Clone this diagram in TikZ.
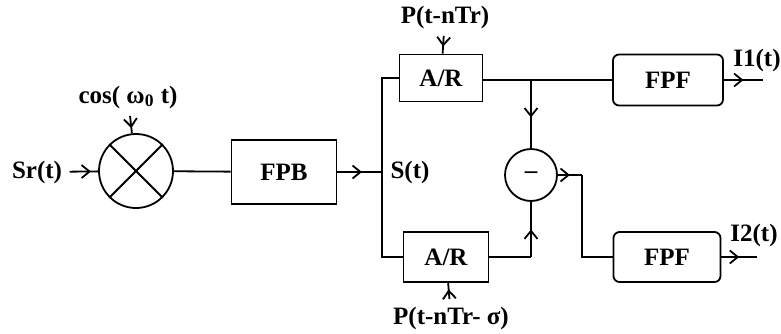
\documentclass[tikz,border=0pt]{standalone}
\usepackage{fontspec}
\setmainfont{Liberation Serif}
\usetikzlibrary{arrows.meta,decorations.markings}

\begin{document}
\begin{tikzpicture}[x=0.5pt, y=-0.5pt, line width=0.9pt,
  font=\fontsize{12.5}{14}\selectfont\bfseries,
  block/.style={draw, rectangle, inner sep=0pt},
  midtip/.style={decoration={markings, mark=at position #1 with {\arrow{Straight Barb[length=4pt,width=6.5pt]}}}, postaction={decorate}}]
  \useasboundingbox (0,0) rectangle (781,333);

  \node[circle, draw, minimum size=37pt, inner sep=0pt] (MX) at (136,171) {};
  \draw (MX.north west) -- (MX.south east);
  \draw (MX.north east) -- (MX.south west);

  \node[block, minimum width=52.5pt, minimum height=32pt] (FPB) at (284,172) {FPB};
  \node[block, minimum width=41.5pt, minimum height=23.5pt] (AR1) at (441,78) {A/R};
  \node[block, minimum width=42.5pt, minimum height=25pt] (AR2) at (446,257) {A/R};
  \node[circle, draw, minimum size=26pt, inner sep=0pt] (SUB) at (531,175) {--};
  \node[block, rounded corners=3pt, minimum width=55pt, minimum height=25.5pt] (FPF1) at (668,80) {FPF};
  \node[block, rounded corners=3pt, minimum width=53.5pt, minimum height=25pt] (FPF2) at (667,257) {FPF};

  \node (SR) at (37,172) {Sr(t)};
  \node (COS) at (128,97) {cos( ω\textsubscript{0} t)};
  \node (ST) at (410,172) {S(t)};
  \node (P1) at (445,17) {P(t-nTr)};
  \node (P2) at (451,318) {P(t-nTr- σ)};
  \node (I1) at (757,60) {I1(t)};
  \node (I2) at (754,235) {I2(t)};

  \coordinate (J) at (382,172);
  \coordinate (JT) at (382,78);
  \coordinate (JB) at (382,257);
  \coordinate (BR) at (531,80);
  \coordinate (BL) at (531,257);
  \coordinate (TN) at (582,175);
  \coordinate (O1) at (763,80);
  \coordinate (O2) at (757,257);

  \draw[midtip=0.75] (SR) -- (MX);
  \draw[midtip=0.7] (COS) -- (MX);
  \draw (MX) -- (FPB);
  \draw[midtip=0.55] (FPB) -- (J);
  \draw (AR1.west) -- (JT) -- (JB) -- (AR2.west);
  \draw[midtip=0.6] (P1) -- (AR1);
  \draw[midtip=0.6] (P2) -- (AR2);
  \draw (AR1.east |- BR) -- (FPF1);
  \draw[midtip=0.55] (BR) -- (SUB);
  \draw (AR2) -- (BL);
  \draw[midtip=0.5] (BL) -- (SUB);
  \draw[midtip=0.5] (SUB) -- (TN);
  \draw (TN) |- (FPF2);
  \draw[midtip=0.5] (FPF1) -- (O1);
  \draw[midtip=0.5] (FPF2) -- (O2);
\end{tikzpicture}
\end{document}
